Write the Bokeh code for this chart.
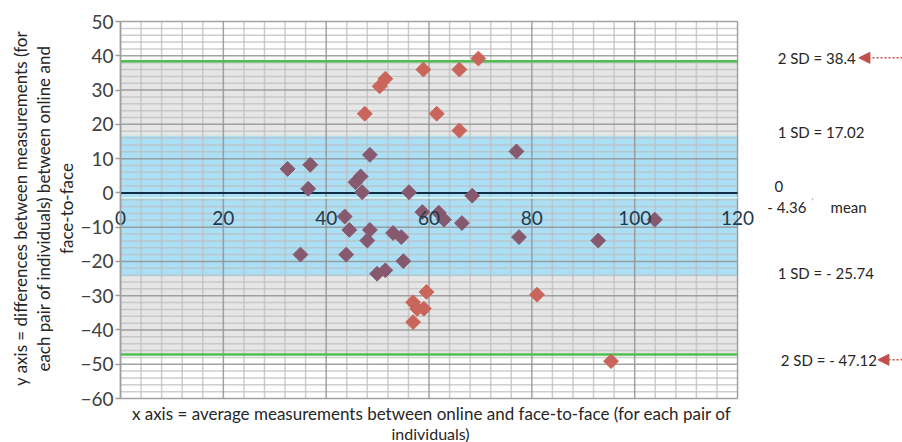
from bokeh.plotting import figure
from bokeh.models import (FixedTicker, LinearAxis, Label, Arrow, NormalHead, Range1d)
from bokeh.embed import file_html
from bokeh.resources import INLINE
import math

# ---- data ----
purple_x = [32.5, 36.9, 48.5, 36.5, 45.7, 46.7, 47.0, 56.1, 68.4, 43.6, 58.7, 61.9, 62.9, 66.4,
            44.5, 48.5, 48.0, 53.0, 54.6, 35.0, 43.9, 55.0, 49.9, 51.5, 77.0, 77.5, 92.9, 103.9]
purple_y = [7.0, 8.2, 11.1, 1.2, 3.1, 4.8, 0.2, 0.2, -0.8, -6.9, -5.6, -5.8, -7.8, -8.8,
            -10.8, -10.8, -13.9, -11.7, -12.9, -18.0, -18.0, -19.9, -23.6, -22.6, 12.1, -12.9, -13.9, -7.8]
red_x = [69.6, 58.9, 65.9, 51.5, 50.4, 47.5, 61.5, 65.9, 59.5, 56.9, 57.7, 59.0, 56.9, 81.0, 95.4]
red_y = [39.2, 36.0, 36.0, 33.3, 31.1, 23.1, 23.1, 18.2, -28.9, -31.9, -33.8, -33.8, -37.7, -29.7, -49.1]

sd2_upper = 38.4
sd2_lower = -47.12
sd1_upper = 16.7      # band edge as drawn
sd1_lower = -24.3     # band edge as drawn
zero_line = 0.0
light_line = -1.4

x_min, x_max = 0, 120
y_min, y_max = -60, 50
x_ticks = [0, 20, 40, 60, 80, 100, 120]
y_ticks = list(range(-60, 51, 10))
x_minor = [v for v in range(0, 121, 4) if v not in x_ticks]
y_minor = [v for v in range(-60, 51, 2) if v not in y_ticks]

right_labels = ["2 SD = 38.4", "1 SD = 17.02", "0", "- 4.36", "mean", "1 SD = - 25.74", "2 SD = - 47.12"]
y_title = ["y axis = differences between measurements (for",
           "each pair of individuals) between online and",
           "face-to-face"]
x_title = ["x axis = average measurements between online and face-to-face (for each pair of",
           "individuals)"]

FONT = "Lato"
TXT = "#262626"

# the frame covers the whole canvas; the chart area is 0..120 x -60..50
p = figure(width=902, height=442, output_backend="svg", toolbar_location=None,
           x_range=Range1d(-23.34, 152.08), y_range=Range1d(-72.83, 56.14),
           x_axis_location=None, y_axis_location=None,
           min_border=0)
p.background_fill_color = "white"
p.border_fill_color = "white"
p.outline_line_color = None
p.grid.visible = False

# bands
p.quad(left=[x_min], right=[x_max], bottom=[sd2_lower], top=[sd2_upper], fill_color="#e6e6e6",
       line_color=None)
p.quad(left=[x_min], right=[x_max], bottom=[sd1_lower], top=[sd1_upper], fill_color="#abdff6",
       line_color=None)

# grid lines
p.segment(x0=x_minor, x1=x_minor, y0=[y_min] * len(x_minor), y1=[y_max] * len(x_minor),
          line_color="#bdbdbd", line_width=1.5, line_alpha=0.75)
p.segment(x0=[x_min] * len(y_minor), x1=[x_max] * len(y_minor), y0=y_minor, y1=y_minor,
          line_color="#bdbdbd", line_width=1.5, line_alpha=0.75)
p.segment(x0=x_ticks, x1=x_ticks, y0=[y_min] * len(x_ticks), y1=[y_max] * len(x_ticks),
          line_color="#939393", line_width=1.5, line_alpha=0.85)
p.segment(x0=[x_min] * len(y_ticks), x1=[x_max] * len(y_ticks), y0=y_ticks, y1=y_ticks,
          line_color="#939393", line_width=1.5, line_alpha=0.85)

# lines
p.line(x=[x_min, x_max], y=[sd2_upper, sd2_upper], line_color="#4fbf50", line_width=2.5)
p.line(x=[x_min, x_max], y=[sd2_lower, sd2_lower], line_color="#4fbf50", line_width=2.5)
p.line(x=[x_min, x_max], y=[light_line, light_line], line_color="#d8f6f2", line_width=1.5)
p.line(x=[x_min, x_max], y=[zero_line, zero_line], line_color="#0f2d45", line_width=2)

# points
p.scatter(x=purple_x, y=purple_y, marker="square", size=10.5, angle=math.pi / 4,
          fill_color="#87596f", line_color="#87596f")
p.scatter(x=red_x, y=red_y, marker="square", size=10.5, angle=math.pi / 4,
          fill_color="#c9655a", line_color="#c9655a")

# y axis at x = 0
ya = LinearAxis(ticker=FixedTicker(ticks=y_ticks), fixed_location=x_min, bounds=(y_min, y_max))
ya.axis_line_color = "#9e9e9e"
ya.axis_line_width = 1.5
ya.major_tick_line_color = "#9e9e9e"
ya.major_tick_line_width = 1.5
ya.major_tick_out = 5
ya.major_tick_in = 0
ya.minor_tick_line_color = None
ya.major_label_standoff = 2
ya.major_label_text_font = FONT
ya.major_label_text_font_size = "19px"
ya.major_label_text_color = "#404040"
p.add_layout(ya, "left")

# x axis labels along the zero line
xa = LinearAxis(ticker=FixedTicker(ticks=x_ticks), fixed_location=0, bounds=(x_min, x_max))
xa.axis_line_color = None
xa.major_tick_line_color = None
xa.minor_tick_line_color = None
xa.major_label_standoff = 12
xa.major_label_text_font = FONT
xa.major_label_text_font_size = "19px"
xa.major_label_text_color = "#1f3a4c"
p.add_layout(xa, "below")


def lab(x, y, t, align="left", angle=0.0, size="15px", color=TXT):
    p.add_layout(Label(x=x, y=y, text=t, text_align=align, text_baseline="middle",
                       angle=angle, text_font=FONT, text_font_size=size, text_color=color))


for xx, t in zip([-19.45, -14.97, -10.5], y_title):
    lab(xx, -4.55, t, align="center", angle=math.pi / 2, size="17px")
lab(60.5, -64.3, x_title[0], align="center", size="17px")
lab(60.3, -70.3, x_title[1], align="center", size="16px")

# right annotations
lab(127.8, 39.4, right_labels[0])
lab(127.8, 17.7, right_labels[1])
lab(127.2, 1.9, right_labels[2])
lab(125.8, -4.2, right_labels[3])
lab(134.4, -2.4, "'", size="9px", color="#9a9a9a")
lab(138.1, -4.0, right_labels[4])
lab(127.8, -23.5, right_labels[5])
lab(128.4, -48.7, right_labels[6])

for (xs, xe, yy) in ((152.08, 143.6, 39.4), (152.08, 147.3, -48.7)):
    p.add_layout(Arrow(end=NormalHead(size=11, fill_color="#c0504d", line_color="#c0504d"),
                       x_start=xs, y_start=yy, x_end=xe, y_end=yy,
                       line_color="#c0504d", line_width=1.5, line_dash="2 2"))

open("out.html", "w").write(file_html(p, INLINE))
